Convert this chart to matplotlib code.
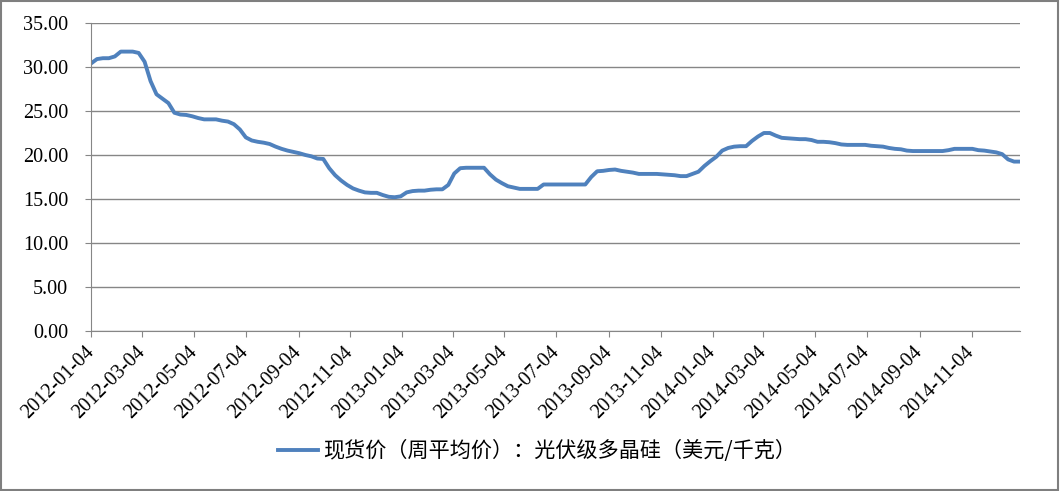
import matplotlib
matplotlib.use("Agg")
import matplotlib.pyplot as plt
import matplotlib.dates as mdates
from matplotlib.patches import Rectangle
import pandas as pd

# weekly spot price, polysilicon (USD/kg), first week 2012-01-04
start = "2012-01-04"
price = [
    30.4, 30.9, 31.0, 31.0, 31.2, 31.75, 31.75, 31.75, 31.6, 30.6,
    28.4, 26.9, 26.4, 25.9, 24.8, 24.6, 24.55, 24.4, 24.2, 24.05,
    24.05, 24.05, 23.9, 23.8, 23.5, 22.9, 22.0, 21.65, 21.5, 21.4,
    21.25, 20.95, 20.7, 20.5, 20.35, 20.2, 20.0, 19.85, 19.6, 19.55,
    18.5, 17.7, 17.1, 16.6, 16.2, 15.95, 15.75, 15.7, 15.7, 15.45,
    15.25, 15.2, 15.3, 15.75, 15.9, 15.95, 15.95, 16.05, 16.1, 16.1,
    16.6, 17.9, 18.5, 18.55, 18.55, 18.55, 18.55, 17.8, 17.2, 16.8,
    16.45, 16.3, 16.15, 16.15, 16.15, 16.15, 16.65, 16.65, 16.65, 16.65,
    16.65, 16.65, 16.65, 16.65, 17.5, 18.15, 18.2, 18.3, 18.35, 18.2,
    18.1, 18.0, 17.85, 17.85, 17.85, 17.85, 17.8, 17.75, 17.7, 17.6,
    17.6, 17.85, 18.1, 18.75, 19.3, 19.8, 20.5, 20.8, 20.95, 21.0,
    21.0, 21.6, 22.1, 22.5, 22.5, 22.2, 21.95, 21.9, 21.85, 21.8,
    21.8, 21.7, 21.5, 21.5, 21.45, 21.35, 21.2, 21.15, 21.15, 21.15,
    21.15, 21.05, 21.0, 20.95, 20.8, 20.7, 20.65, 20.5, 20.45, 20.45,
    20.45, 20.45, 20.45, 20.45, 20.55, 20.7, 20.7, 20.7, 20.7, 20.55,
    20.5, 20.4, 20.3, 20.1, 19.5, 19.25, 19.25,
]
label = "现货价（周平均价）：光伏级多晶硅（美元/千克）"
yticks = [0, 5, 10, 15, 20, 25, 30, 35]

dates = pd.date_range(start, periods=len(price), freq="7D")
# axis ticks on the 4th of every other month
tick_dates = pd.date_range("2012-01-01", "2014-11-01", freq="2MS") + pd.Timedelta(days=3)

GRID = "#868686"
plt.rcParams.update({
    "font.family": ["Liberation Serif", "DejaVu Serif"],
    "ytick.major.pad": 12, "xtick.major.pad": 9,
    "xtick.major.size": 4.5, "ytick.major.size": 4.5,
    "xtick.color": GRID, "ytick.color": GRID,
    "xtick.labelcolor": "black", "ytick.labelcolor": "black",
})

fig = plt.figure(figsize=(10.6, 4.91), dpi=100)
ax = fig.add_axes([91 / 1060, 1 - 331 / 491, (1020 - 91) / 1060, (331 - 23) / 491])
ax.plot(dates, price, color="#4f81bd", lw=2.8, solid_joinstyle="round", label=label)

ax.set_xlim(dates[0], dates[-1])
ax.set_ylim(0, 35)
ax.set_yticks(yticks)
ax.set_yticklabels([f"{v:.2f}" for v in yticks], fontsize=14.5)
ax.set_xticks(tick_dates)
ax.xaxis.set_major_formatter(mdates.DateFormatter("%Y-%m-%d"))
for t in ax.get_xticklabels():
    t.set_rotation(45); t.set_ha("right"); t.set_va("center")
    t.set_rotation_mode("anchor"); t.set_fontsize(14.5)

ax.grid(axis="y", color=GRID, lw=1)
ax.set_axisbelow(True)
for s in ("top", "right"):
    ax.spines[s].set_visible(False)
for s in ("left", "bottom"):
    ax.spines[s].set_color(GRID)

fig.legend(loc="center", bbox_to_anchor=(537 / 1060, 1 - 451 / 491), frameon=False,
           prop={"family": ["Noto Sans CJK SC", "DejaVu Sans"], "size": 15.2},
           handlelength=1.9, handletextpad=0.2)

fig.add_artist(Rectangle((0.001, 0.002), 0.997, 0.996, transform=fig.transFigure,
                         fill=False, ec="#7f7f7f", lw=1.5))
fig.savefig("out.png", dpi=100)
